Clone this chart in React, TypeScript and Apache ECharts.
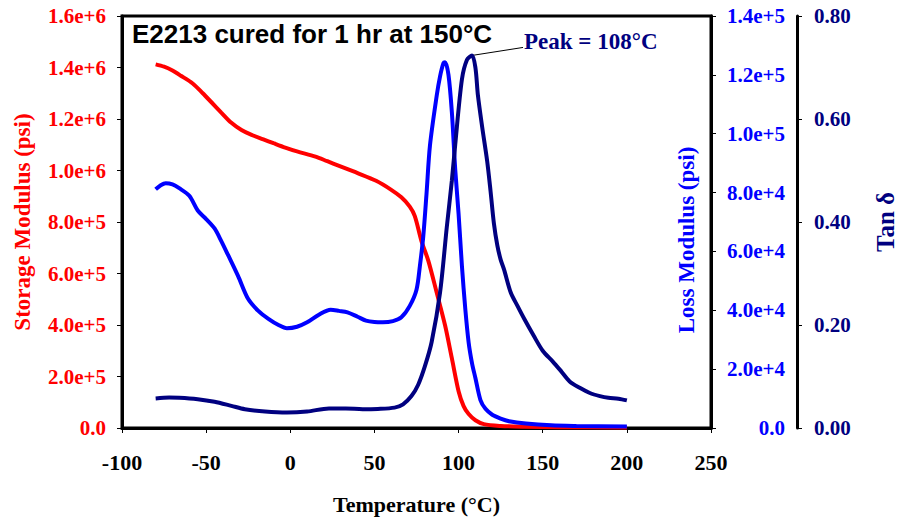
import React, { useEffect, useRef } from "react";
import * as echarts from "echarts";

const titleText = "E2213 cured for 1 hr at 150°C";
const peakText = "Peak = 108°C";
const peakTemp = 108;

const storageT = [-80, -75, -70, -65, -58, -52, -47, -41, -35, -29, -23, -16, -10, -3, 4, 15, 22, 29, 40, 51, 60, 66, 71, 74, 78, 82, 87, 92, 96, 100, 103, 106, 110, 115, 125, 139, 160, 200];
const storageV = [1.412e6, 1.403e6, 1.388e6, 1.368e6, 1.338e6, 1.30e6, 1.266e6, 1.225e6, 1.185e6, 1.157e6, 1.138e6, 1.121e6, 1.106e6, 1.089e6, 1.074e6, 1.054e6, 1.036e6, 1.018e6, 0.99e6, 0.96e6, 0.925e6, 0.896e6, 0.86e6, 0.823e6, 0.725e6, 0.65e6, 0.526e6, 0.398e6, 0.271e6, 0.143e6, 0.085e6, 0.054e6, 0.03e6, 0.015e6, 0.008e6, 0.005e6, 0.003e6, 0.002e6];

const lossT = [-80, -77, -74, -70, -66, -60, -55, -50, -45, -41, -37, -31, -25, -19, -13, -7, -2, 4, 10, 17, 24, 29, 34, 40, 45, 50, 55, 61, 66, 71, 75, 77, 79, 81, 83, 87, 89, 91, 92, 94, 96, 98, 100, 102, 104, 106, 108, 110, 113, 116, 120, 125, 130, 140, 155, 170, 200];
const lossV = [81.1e3, 82.5e3, 83.2e3, 82.8e3, 81.5e3, 78.9e3, 73.9e3, 71.0e3, 67.8e3, 63.5e3, 58.8e3, 51.6e3, 43.8e3, 39.8e3, 37.1e3, 35.0e3, 33.9e3, 34.4e3, 35.9e3, 38.5e3, 40.2e3, 39.8e3, 39.3e3, 37.8e3, 36.5e3, 36.0e3, 35.9e3, 36.3e3, 37.6e3, 41.5e3, 47e3, 55e3, 65e3, 80e3, 96e3, 112.9e3, 119.5e3, 124e3, 124.3e3, 120e3, 107.4e3, 88e3, 72.8e3, 55e3, 40.4e3, 29e3, 22e3, 17e3, 9.5e3, 6.5e3, 4.5e3, 3.2e3, 2.3e3, 1.5e3, 0.9e3, 0.7e3, 0.5e3];

const tanT = [-80, -72, -66, -55, -45, -35, -27, -15, -2, 10, 23, 33, 43, 52, 62, 67, 72, 76, 80, 84, 89, 93, 96, 98, 102, 105, 108, 110, 111.5, 114, 117, 119, 121, 123, 125, 127, 131, 135, 139, 144.5, 150, 156, 161, 166, 172, 178, 184, 189, 195, 200];
const tanV = [0.0574, 0.059, 0.0587, 0.056, 0.051, 0.043, 0.0364, 0.032, 0.030, 0.032, 0.038, 0.038, 0.0364, 0.037, 0.0396, 0.046, 0.062, 0.084, 0.12, 0.167, 0.263, 0.39, 0.48, 0.55, 0.677, 0.715, 0.7234, 0.70, 0.646, 0.585, 0.518, 0.46, 0.397, 0.355, 0.327, 0.308, 0.263, 0.237, 0.212, 0.18, 0.15, 0.129, 0.11, 0.0905, 0.078, 0.068, 0.062, 0.0587, 0.057, 0.0536];

const RED = "#ff0000";
const BLUE = "#0000ff";
const NAVY = "#000080";
const SERIF = "'Liberation Serif', 'Times New Roman', serif";
const SANS = "'Liberation Sans', Arial, sans-serif";

const zip = (a: number[], b: number[]) => a.map((t, i) => [t, b[i]]);
const expFmt = (v: number) => (v === 0 ? "0.0" : v.toExponential(1));

export default function App() {
  const ref = useRef<HTMLDivElement>(null);
  useEffect(() => {
    if (!ref.current) return;
    const chart = echarts.init(ref.current, null, { renderer: "svg" });
    const tick = { show: true, inside: false, length: 5, lineStyle: { color: "#000", width: 1 } };
    const line = { show: true, onZero: false, lineStyle: { color: "#000", width: 3 } };
    const curve = { showSymbol: false, smooth: 0.3 };
    chart.setOption({
      animation: false,
      backgroundColor: "#fff",
      grid: { left: 122, top: 16, width: 598, height: 418, show: true, borderColor: "#000", borderWidth: 3, containLabel: false },
      xAxis: {
        type: "value", min: -100, max: 250, interval: 50,
        axisLine: line, axisTick: tick, splitLine: { show: false },
        axisLabel: { color: "#000", fontFamily: SERIF, fontWeight: "bold", fontSize: 22, margin: 23 },
        name: "Temperature (°C)", nameLocation: "middle", nameGap: 65,
        nameTextStyle: { color: "#000", fontFamily: SERIF, fontWeight: "bold", fontSize: 22 },
      },
      yAxis: [
        {
          type: "value", position: "left", min: 0, max: 1.6e6, interval: 2e5,
          axisLine: line, axisTick: tick, splitLine: { show: false },
          axisLabel: { color: RED, fontFamily: SERIF, fontWeight: "bold", fontSize: 21, margin: 16, formatter: expFmt },
          name: "Storage Modulus (psi)", nameLocation: "middle", nameGap: 88,
          nameTextStyle: { color: RED, fontFamily: SERIF, fontWeight: "bold", fontSize: 23 },
        },
        {
          type: "value", position: "right", min: 0, max: 1.4e5, interval: 2e4,
          axisLine: line, axisTick: tick, splitLine: { show: false },
          axisLabel: { color: BLUE, fontFamily: SERIF, fontWeight: "bold", fontSize: 21, margin: 74, align: "right", formatter: expFmt },
        },
        {
          type: "value", position: "right", offset: 86, min: 0, max: 0.8, interval: 0.2,
          axisLine: line, axisTick: tick, splitLine: { show: false },
          axisLabel: { color: NAVY, fontFamily: SERIF, fontWeight: "bold", fontSize: 21, margin: 17, formatter: (v: number) => v.toFixed(2) },
          name: "Tan δ", nameLocation: "middle", nameGap: 76,
          nameTextStyle: { color: NAVY, fontFamily: SERIF, fontWeight: "bold", fontSize: 25 },
        },
      ],
      series: [
        { name: "Storage Modulus", type: "line", yAxisIndex: 0, data: zip(storageT, storageV), ...curve, lineStyle: { color: RED, width: 4 }, itemStyle: { color: RED } },
        { name: "Loss Modulus", type: "line", yAxisIndex: 1, data: zip(lossT, lossV), ...curve, lineStyle: { color: BLUE, width: 4 }, itemStyle: { color: BLUE } },
        { name: "Tan δ", type: "line", yAxisIndex: 2, data: zip(tanT, tanV), ...curve, lineStyle: { color: NAVY, width: 4 }, itemStyle: { color: NAVY } },
      ],
    });
    const peakIdx = tanT.indexOf(peakTemp);
    const p = chart.convertToPixel({ seriesIndex: 2 }, [peakTemp, tanV[peakIdx]]) as number[];
    chart.setOption({
      graphic: [
        { type: "text", left: 132, top: 21, style: { text: titleText, fill: "#000", font: `bold 26px ${SANS}` } },
        { type: "line", shape: { x1: p[0], y1: p[1], x2: p[0] + 51, y2: p[1] - 8 }, style: { stroke: "#000", lineWidth: 1 } },
        { type: "text", x: p[0] + 52, y: p[1] - 14, style: { text: peakText, fill: NAVY, font: `bold 23px ${SERIF}`, textAlign: "left", textVerticalAlign: "middle" } },
        { type: "text", x: 686, y: 240, rotation: Math.PI / 2, style: { text: "Loss Modulus (psi)", fill: BLUE, font: `bold 23px ${SERIF}`, textAlign: "center", textVerticalAlign: "middle" } },
      ],
    });
    return () => chart.dispose();
  }, []);
  return <div ref={ref} style={{ position: "fixed", left: 0, top: 0, width: 906, height: 520 }} />;
}
